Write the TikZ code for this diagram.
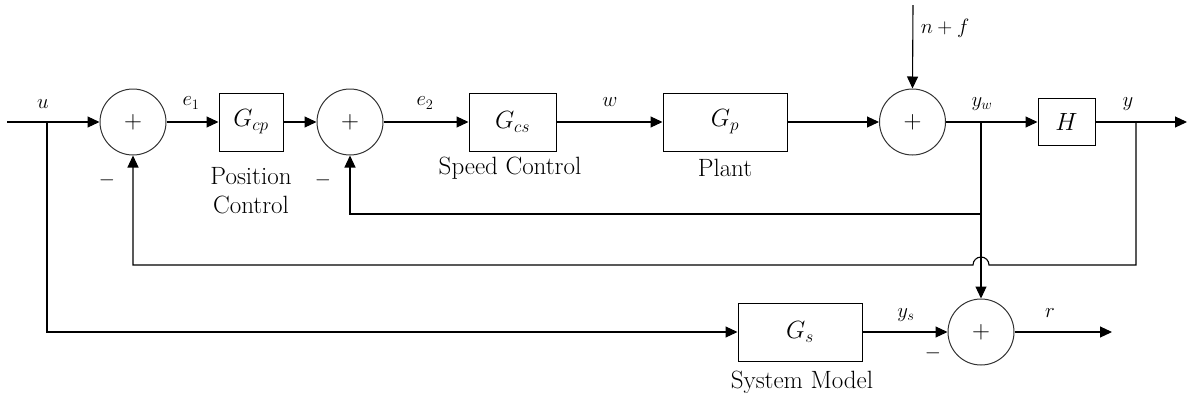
\documentclass[tikz,border=0pt]{standalone}
\usetikzlibrary{arrows.meta}
\begin{document}
\begin{tikzpicture}[x=1pt,y=-1pt,
  sig/.style={line width=1.1pt},
  arr/.style={sig,-{Triangle[length=12pt,width=11pt]}},
  sumnode/.style={circle,draw=black!80,line width=1pt,minimum size=66pt,inner sep=0pt,font=\fontsize{24}{24}\selectfont},
  blk/.style={draw,line width=1pt,minimum height=58pt,inner sep=0pt,font=\fontsize{25}{27}\selectfont},
  lbl/.style={inner sep=1pt,font=\fontsize{22}{22}\selectfont},
  caption/.style={align=center,font=\fontsize{25}{29}\selectfont},
  minus/.style={font=\fontsize{20}{20}\selectfont}]
\useasboundingbox (0,0) rectangle (1192,400);

% summing junctions and blocks
\node[sumnode] (s1) at (133,122) {$+$};
\node[blk,minimum width=64pt] (gcp) at (251,122) {$G_{cp}$};
\node[sumnode] (s2) at (350,122) {$+$};
\node[blk,minimum width=87pt] (gcs) at (512.5,122) {$G_{cs}$};
\node[blk,minimum width=124pt] (gp) at (725,122) {$G_p$};
\node[sumnode] (s3) at (912.5,122) {$+$};
\node[blk,minimum width=57pt,minimum height=47pt] (h) at (1066.5,122) {$H$};
\node[blk,minimum width=124pt] (gs) at (800,332) {$G_s$};
\node[sumnode] (s4) at (981,332) {$+$};

% branch points and free ends
\coordinate (in) at (7,122);
\coordinate (ub) at (47,122);
\coordinate (yw) at (981,122);
\coordinate (fb) at (981,214);
\coordinate (yb) at (1136,122);
\coordinate (nf) at (913,5);
\coordinate (out) at (1187,122);
\coordinate (rout) at (1112,332);
\coordinate (hr) at (989,265);
\coordinate (hl) at (973,265);

% forward path
\draw[sig] (in) -- (ub);
\draw[arr] (ub) -- (s1.west);
\draw[arr] (s1.east) -- (gcp.west);
\draw[arr] (gcp.east) -- (s2.west);
\draw[arr] (s2.east) -- (gcs.west);
\draw[arr] (gcs.east) -- (gp.west);
\draw[arr] (gp.east) -- (s3.west);
\draw[arr] (nf) -- (s3.north);
\draw[arr] (s3.east) -- (h.west);
\draw[arr] (h.east) -- (out);

% feedback loops
\draw[arr] (yw) -- (s4.north);
\draw[arr] (fb) -| (s2.south);
\draw[arr] (yb) |- (hr) arc[start angle=0,end angle=180,radius=8pt] -- (s1 |- hl) -- (s1.south);

% system model branch
\draw[arr] (ub) |- (gs.west);
\draw[arr] (gs.east) -- (s4.west);
\draw[arr] (s4.east) -- (rout);

% signal labels
\node[lbl] (lu) at (43,104) {$u$};
\node[lbl] (le1) at (191,103) {$e_1$};
\node[lbl] (le2) at (425,103) {$e_2$};
\node[lbl] (lw) at (610,102) {$w$};
\node[lbl] (lnf) at (945,28) {$n+f$};
\node[lbl] (lyw) at (982,104) {$y_w$};
\node[lbl] (ly) at (1128,104) {$y$};
\node[lbl] (lys) at (906,315) {$y_s$};
\node[lbl] (lr) at (1050,313) {$r$};

% minus signs
\node[minus] (m1) at (107,180) {$-$};
\node[minus] (m2) at (323,180) {$-$};
\node[minus] (m4) at (933,353) {$-$};

% block captions
\node[caption] (c1) at (251,191) {Position\\Control};
\node[caption] (c2) at (510,168) {Speed Control};
\node[caption] (c3) at (725,168) {Plant};
\node[caption] (c4) at (802,382) {System Model};
\end{tikzpicture}
\end{document}
